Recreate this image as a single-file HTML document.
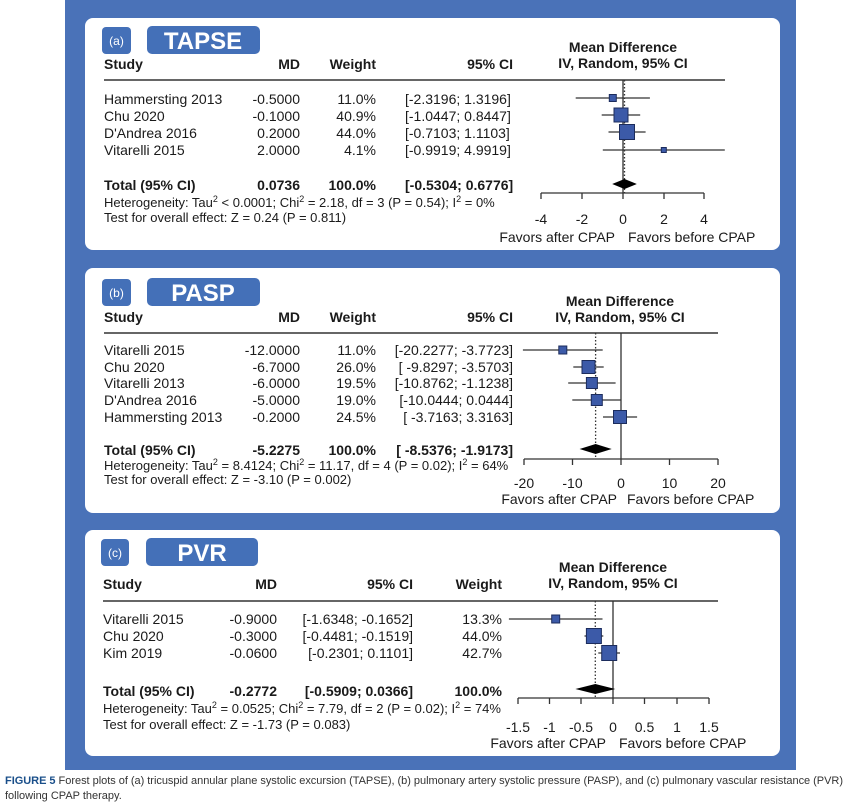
<!DOCTYPE html>
<html><head><meta charset="utf-8"><style>
html,body{margin:0;padding:0;background:#fff;}
svg{display:block;}
text{font-family:"Liberation Sans",sans-serif;fill:#1a1a1a;}
.b{font-weight:bold;}
.h{font-size:13px;}
</style></head><body>
<svg width="868" height="805" viewBox="0 0 868 805" xmlns="http://www.w3.org/2000/svg">
<rect x="65" y="0" width="731" height="770" fill="#4a72b8"/>
<rect x="85" y="18" width="695" height="232" rx="8" fill="#fff"/>
<rect x="85" y="268" width="695" height="245" rx="8" fill="#fff"/>
<rect x="85" y="530" width="695" height="226" rx="8" fill="#fff"/>

<!-- Panel A -->
<rect x="102" y="27" width="29" height="27" rx="4" fill="#4470b8"/>
<text x="116.5" y="45" font-size="12" text-anchor="middle" style="fill:#fff">(a)</text>
<rect x="147" y="26" width="113" height="28" rx="5" fill="#4470b8"/>
<text x="203" y="49" font-size="24" class="b" text-anchor="middle" style="fill:#fff">TAPSE</text>
<g font-size="14">
<text x="104" y="69" class="b">Study</text>
<text x="300" y="69" class="b" text-anchor="end">MD</text>
<text x="376" y="69" class="b" text-anchor="end">Weight</text>
<text x="513" y="69" class="b" text-anchor="end">95% CI</text>
<text x="623" y="52" class="b" text-anchor="middle">Mean Difference</text>
<text x="623" y="68" class="b" text-anchor="middle">IV, Random, 95% CI</text>
<text x="104" y="104">Hammersting 2013</text><text x="300" y="104" text-anchor="end">-0.5000</text><text x="376" y="104" text-anchor="end">11.0%</text><text x="405" y="104">[-2.3196; 1.3196]</text>
<text x="104" y="121">Chu 2020</text><text x="300" y="121" text-anchor="end">-0.1000</text><text x="376" y="121" text-anchor="end">40.9%</text><text x="405" y="121">[-1.0447; 0.8447]</text>
<text x="104" y="138">D'Andrea 2016</text><text x="300" y="138" text-anchor="end">0.2000</text><text x="376" y="138" text-anchor="end">44.0%</text><text x="405" y="138">[-0.7103; 1.1103]</text>
<text x="104" y="155">Vitarelli 2015</text><text x="300" y="155" text-anchor="end">2.0000</text><text x="376" y="155" text-anchor="end">4.1%</text><text x="405" y="155">[-0.9919; 4.9919]</text>
<text x="104" y="190" class="b">Total (95% CI)</text><text x="300" y="190" class="b" text-anchor="end">0.0736</text><text x="376" y="190" class="b" text-anchor="end">100.0%</text><text x="405" y="190" class="b">[-0.5304; 0.6776]</text>
<text x="541" y="224" text-anchor="middle">-4</text><text x="582" y="224" text-anchor="middle">-2</text><text x="623" y="224" text-anchor="middle">0</text><text x="664" y="224" text-anchor="middle">2</text><text x="704" y="224" text-anchor="middle">4</text>
<text x="615" y="242" text-anchor="end">Favors after CPAP</text><text x="628" y="242">Favors before CPAP</text>
</g>
<text x="104" y="207" class="h">Heterogeneity: Tau<tspan font-size="9" dy="-5">2</tspan><tspan dy="5"> &lt; 0.0001; Chi</tspan><tspan font-size="9" dy="-5">2</tspan><tspan dy="5"> = 2.18, df = 3 (P = 0.54); I</tspan><tspan font-size="9" dy="-5">2</tspan><tspan dy="5"> = 0%</tspan></text>
<text x="104" y="222" class="h">Test for overall effect: Z = 0.24 (P = 0.811)</text>
<g stroke="#333" stroke-width="1.3" fill="none">
<line x1="104" y1="80" x2="725" y2="80" stroke-width="1.6"/>
<line x1="623" y1="80" x2="623" y2="193"/>
<line x1="624.5" y1="80" x2="624.5" y2="193" stroke-dasharray="1.5,2"/>
<line x1="541" y1="193" x2="704" y2="193"/>
<line x1="541" y1="193" x2="541" y2="199"/><line x1="582" y1="193" x2="582" y2="199"/><line x1="623" y1="193" x2="623" y2="199"/><line x1="664" y1="193" x2="664" y2="199"/><line x1="704" y1="193" x2="704" y2="199"/>
<line x1="575.7" y1="98" x2="649.9" y2="98"/>
<line x1="601.7" y1="115" x2="640.2" y2="115"/>
<line x1="608.5" y1="132" x2="645.6" y2="132"/>
<line x1="602.8" y1="150" x2="724.8" y2="150"/>
</g>
<g fill="#3c5aa8" stroke="#1c2c5c" stroke-width="1">
<rect x="609.3" y="94.5" width="7" height="7"/>
<rect x="614" y="108" width="14" height="14"/>
<rect x="619.5" y="124.5" width="15" height="15"/>
<rect x="661.3" y="147.5" width="5" height="5"/>
</g>
<polygon points="612.2,184 624.5,179 636.8,184 624.5,189" fill="#000"/>

<!-- Panel B -->
<rect x="102" y="279" width="29" height="27" rx="4" fill="#4470b8"/>
<text x="116.5" y="297" font-size="12" text-anchor="middle" style="fill:#fff">(b)</text>
<rect x="147" y="278" width="113" height="28" rx="5" fill="#4470b8"/>
<text x="203" y="301" font-size="24" class="b" text-anchor="middle" style="fill:#fff">PASP</text>
<g font-size="14">
<text x="104" y="322" class="b">Study</text>
<text x="300" y="322" class="b" text-anchor="end">MD</text>
<text x="376" y="322" class="b" text-anchor="end">Weight</text>
<text x="513" y="322" class="b" text-anchor="end">95% CI</text>
<text x="620" y="306" class="b" text-anchor="middle">Mean Difference</text>
<text x="620" y="322" class="b" text-anchor="middle">IV, Random, 95% CI</text>
<text x="104" y="355">Vitarelli 2015</text><text x="300" y="355" text-anchor="end">-12.0000</text><text x="376" y="355" text-anchor="end">11.0%</text><text x="513" y="355" text-anchor="end">[-20.2277; -3.7723]</text>
<text x="104" y="372">Chu 2020</text><text x="300" y="372" text-anchor="end">-6.7000</text><text x="376" y="372" text-anchor="end">26.0%</text><text x="513" y="372" text-anchor="end">[ -9.8297; -3.5703]</text>
<text x="104" y="388">Vitarelli 2013</text><text x="300" y="388" text-anchor="end">-6.0000</text><text x="376" y="388" text-anchor="end">19.5%</text><text x="513" y="388" text-anchor="end">[-10.8762; -1.1238]</text>
<text x="104" y="405">D'Andrea 2016</text><text x="300" y="405" text-anchor="end">-5.0000</text><text x="376" y="405" text-anchor="end">19.0%</text><text x="513" y="405" text-anchor="end">[-10.0444;  0.0444]</text>
<text x="104" y="422">Hammersting 2013</text><text x="300" y="422" text-anchor="end">-0.2000</text><text x="376" y="422" text-anchor="end">24.5%</text><text x="513" y="422" text-anchor="end">[ -3.7163;  3.3163]</text>
<text x="104" y="455" class="b">Total (95% CI)</text><text x="300" y="455" class="b" text-anchor="end">-5.2275</text><text x="376" y="455" class="b" text-anchor="end">100.0%</text><text x="513" y="455" class="b" text-anchor="end">[ -8.5376; -1.9173]</text>
<text x="524" y="488" text-anchor="middle">-20</text><text x="572.5" y="488" text-anchor="middle">-10</text><text x="621" y="488" text-anchor="middle">0</text><text x="669.5" y="488" text-anchor="middle">10</text><text x="718" y="488" text-anchor="middle">20</text>
<text x="617" y="504" text-anchor="end">Favors after CPAP</text><text x="627" y="504">Favors before CPAP</text>
</g>
<text x="104" y="470" class="h">Heterogeneity: Tau<tspan font-size="9" dy="-5">2</tspan><tspan dy="5"> = 8.4124; Chi</tspan><tspan font-size="9" dy="-5">2</tspan><tspan dy="5"> = 11.17, df = 4 (P = 0.02); I</tspan><tspan font-size="9" dy="-5">2</tspan><tspan dy="5"> = 64%</tspan></text>
<text x="104" y="484" class="h">Test for overall effect: Z = -3.10 (P = 0.002)</text>
<g stroke="#333" stroke-width="1.3" fill="none">
<line x1="104" y1="333" x2="718" y2="333" stroke-width="1.6"/>
<line x1="621" y1="333" x2="621" y2="459"/>
<line x1="595.6" y1="333" x2="595.6" y2="459" stroke-dasharray="1.5,2"/>
<line x1="524" y1="459" x2="718" y2="459"/>
<line x1="524" y1="459" x2="524" y2="465"/><line x1="572.5" y1="459" x2="572.5" y2="465"/><line x1="621" y1="459" x2="621" y2="465"/><line x1="669.5" y1="459" x2="669.5" y2="465"/><line x1="718" y1="459" x2="718" y2="465"/>
<line x1="522.9" y1="350" x2="602.7" y2="350"/>
<line x1="573.3" y1="367" x2="603.7" y2="367"/>
<line x1="568.2" y1="383" x2="615.6" y2="383"/>
<line x1="572.3" y1="400" x2="621.2" y2="400"/>
<line x1="603" y1="417" x2="637.1" y2="417"/>
</g>
<g fill="#3c5aa8" stroke="#1c2c5c" stroke-width="1">
<rect x="558.8" y="346" width="8" height="8"/>
<rect x="582" y="360.5" width="13" height="13"/>
<rect x="586.4" y="377.5" width="11" height="11"/>
<rect x="591.3" y="394.5" width="11" height="11"/>
<rect x="613.5" y="410.5" width="13" height="13"/>
</g>
<polygon points="579.6,449 595.6,444 611.7,449 595.6,454" fill="#000"/>

<!-- Panel C -->
<rect x="101" y="539" width="28" height="27" rx="4" fill="#4470b8"/>
<text x="115" y="557" font-size="12" text-anchor="middle" style="fill:#fff">(c)</text>
<rect x="146" y="538" width="112" height="28" rx="5" fill="#4470b8"/>
<text x="202" y="561" font-size="24" class="b" text-anchor="middle" style="fill:#fff">PVR</text>
<g font-size="14">
<text x="103" y="589" class="b">Study</text>
<text x="277" y="589" class="b" text-anchor="end">MD</text>
<text x="413" y="589" class="b" text-anchor="end">95% CI</text>
<text x="502" y="589" class="b" text-anchor="end">Weight</text>
<text x="613" y="572" class="b" text-anchor="middle">Mean Difference</text>
<text x="613" y="588" class="b" text-anchor="middle">IV, Random, 95% CI</text>
<text x="103" y="624">Vitarelli 2015</text><text x="277" y="624" text-anchor="end">-0.9000</text><text x="413" y="624" text-anchor="end">[-1.6348; -0.1652]</text><text x="502" y="624" text-anchor="end">13.3%</text>
<text x="103" y="641">Chu 2020</text><text x="277" y="641" text-anchor="end">-0.3000</text><text x="413" y="641" text-anchor="end">[-0.4481; -0.1519]</text><text x="502" y="641" text-anchor="end">44.0%</text>
<text x="103" y="658">Kim 2019</text><text x="277" y="658" text-anchor="end">-0.0600</text><text x="413" y="658" text-anchor="end">[-0.2301;  0.1101]</text><text x="502" y="658" text-anchor="end">42.7%</text>
<text x="103" y="696" class="b">Total (95% CI)</text><text x="277" y="696" class="b" text-anchor="end">-0.2772</text><text x="413" y="696" class="b" text-anchor="end">[-0.5909;  0.0366]</text><text x="502" y="696" class="b" text-anchor="end">100.0%</text>
<text x="518" y="732" text-anchor="middle">-1.5</text><text x="549.5" y="732" text-anchor="middle">-1</text><text x="581" y="732" text-anchor="middle">-0.5</text><text x="613" y="732" text-anchor="middle">0</text><text x="644.5" y="732" text-anchor="middle">0.5</text><text x="677" y="732" text-anchor="middle">1</text><text x="709" y="732" text-anchor="middle">1.5</text>
<text x="606" y="748" text-anchor="end">Favors after CPAP</text><text x="619" y="748">Favors before CPAP</text>
</g>
<text x="103" y="713" class="h">Heterogeneity: Tau<tspan font-size="9" dy="-5">2</tspan><tspan dy="5"> = 0.0525; Chi</tspan><tspan font-size="9" dy="-5">2</tspan><tspan dy="5"> = 7.79, df = 2 (P = 0.02); I</tspan><tspan font-size="9" dy="-5">2</tspan><tspan dy="5"> = 74%</tspan></text>
<text x="103" y="729" class="h">Test for overall effect: Z = -1.73 (P = 0.083)</text>
<g stroke="#333" stroke-width="1.3" fill="none">
<line x1="103" y1="601" x2="718" y2="601" stroke-width="1.6"/>
<line x1="613" y1="601" x2="613" y2="698"/>
<line x1="595.3" y1="601" x2="595.3" y2="698" stroke-dasharray="1.5,2"/>
<line x1="518" y1="698" x2="709" y2="698"/>
<line x1="518" y1="698" x2="518" y2="704"/><line x1="549.5" y1="698" x2="549.5" y2="704"/><line x1="581" y1="698" x2="581" y2="704"/><line x1="613" y1="698" x2="613" y2="704"/><line x1="644.5" y1="698" x2="644.5" y2="704"/><line x1="677" y1="698" x2="677" y2="704"/><line x1="709" y1="698" x2="709" y2="704"/>
<line x1="508.9" y1="619" x2="602.5" y2="619"/>
<line x1="584.5" y1="636" x2="603.3" y2="636"/>
<line x1="598.3" y1="653" x2="620" y2="653"/>
</g>
<g fill="#3c5aa8" stroke="#1c2c5c" stroke-width="1">
<rect x="551.7" y="615" width="8" height="8"/>
<rect x="586.4" y="628.5" width="15" height="15"/>
<rect x="601.7" y="645.5" width="15" height="15"/>
</g>
<polygon points="575.4,689 595.3,684 615.3,689 595.3,694" fill="#000"/>

<!-- Caption -->
<text x="5" y="784" font-size="11" style="fill:#333" textLength="838" lengthAdjust="spacing"><tspan class="b" style="fill:#1a4f8a">FIGURE 5</tspan> Forest plots of (a) tricuspid annular plane systolic excursion (TAPSE), (b) pulmonary artery systolic pressure (PASP), and (c) pulmonary vascular resistance (PVR)</text>
<text x="5" y="799" font-size="11" style="fill:#333">following CPAP therapy.</text>
</svg>
</body></html>
